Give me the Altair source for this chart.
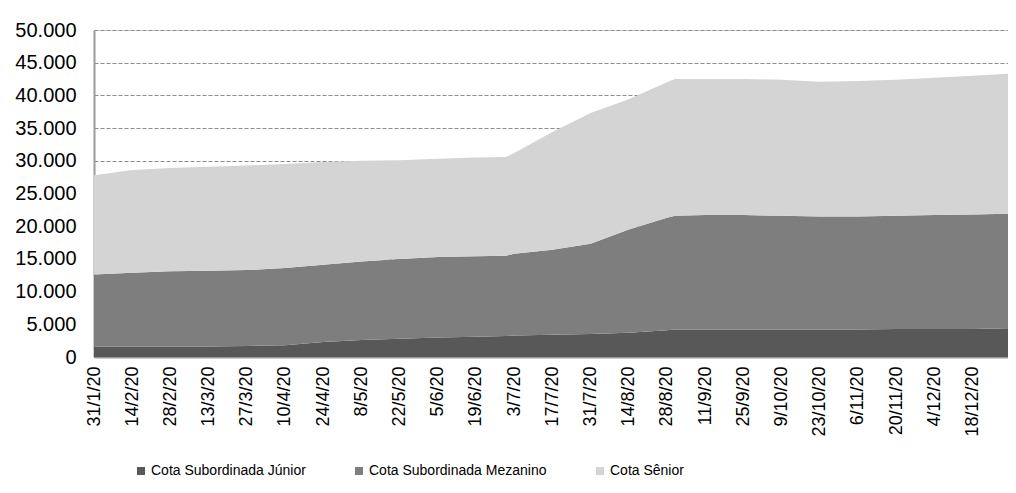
import altair as alt
import pandas as pd

# ---- data (R$ mil) ----
dates = ["2020-01-31", "2020-02-14", "2020-02-28", "2020-03-13", "2020-03-27",
         "2020-04-10", "2020-04-24", "2020-05-08", "2020-05-22", "2020-06-05",
         "2020-06-19", "2020-06-30", "2020-07-03", "2020-07-17", "2020-07-31",
         "2020-08-14", "2020-08-28", "2020-08-31", "2020-09-11", "2020-09-25",
         "2020-10-09", "2020-10-23", "2020-11-06", "2020-11-20", "2020-12-04",
         "2020-12-18", "2020-12-31"]

junior = [1600, 1600, 1600, 1600, 1700, 1800, 2300, 2600, 2800, 3000, 3100, 3200,
          3300, 3400, 3500, 3700, 4100, 4200, 4200, 4200, 4200, 4200, 4200, 4300,
          4300, 4300, 4400]
mezanino = [11000, 11300, 11500, 11600, 11600, 11800, 11800, 12000, 12200, 12300,
            12300, 12300, 12500, 13000, 13800, 15800, 17200, 17400, 17500, 17500,
            17400, 17300, 17300, 17300, 17400, 17500, 17500]
senior = [15200, 15700, 15800, 15900, 16000, 15900, 15700, 15400, 15100, 15000,
          15100, 15100, 15400, 18000, 20000, 19900, 20700, 20900, 20800, 20800,
          20800, 20600, 20700, 20800, 21000, 21200, 21400]

series_names = ["Cota Subordinada Júnior", "Cota Subordinada Mezanino", "Cota Sênior"]
series_colors = ["#585858", "#7e7e7e", "#d4d4d4"]

tick_dates = [(1, 31), (2, 14), (2, 28), (3, 13), (3, 27), (4, 10), (4, 24), (5, 8),
              (5, 22), (6, 5), (6, 19), (7, 3), (7, 17), (7, 31), (8, 14), (8, 28),
              (9, 11), (9, 25), (10, 9), (10, 23), (11, 6), (11, 20), (12, 4), (12, 18)]

rows = []
for k, (name, vals) in enumerate(zip(series_names, [junior, mezanino, senior])):
    for d, v in zip(dates, vals):
        rows.append({"data": d, "serie": name, "valor": v, "ordem": k})
df = pd.DataFrame(rows)

FONT = "Liberation Sans"

chart = alt.Chart(df).mark_area(opacity=1).encode(
    x=alt.X(
        "data:T",
        scale=alt.Scale(
            type="utc",
            domain=[alt.DateTime(year=2020, month=1, date=31, utc=True),
                    alt.DateTime(year=2020, month=12, date=31, utc=True)],
            nice=False,
        ),
        axis=alt.Axis(
            title=None,
            values=[alt.DateTime(year=2020, month=m, date=d, utc=True) for m, d in tick_dates],
            format="%-d/%-m/%y",
            labelAngle=-90,
            labelAlign="right",
            labelBaseline="middle",
            labelPadding=9,
            labelFontSize=18,
            labelFont=FONT,
            labelColor="#000000",
            labelOverlap=False,
            labelFlush=False,
            ticks=False,
            grid=False,
            domainColor="#9a9a9a",
            domainWidth=2,
        ),
    ),
    y=alt.Y(
        "valor:Q",
        stack="zero",
        scale=alt.Scale(domain=[0, 50000], nice=False),
        axis=alt.Axis(
            title=None,
            values=list(range(0, 50001, 5000)),
            labelExpr="replace(format(datum.value, ',d'), ',', '.')",
            labelFontSize=20,
            labelFont=FONT,
            labelColor="#000000",
            labelPadding=18,
            ticks=False,
            grid=True,
            gridColor="#8c8c8c",
            gridDash=[4, 2],
            gridWidth=1,
            domainColor="#9a9a9a",
            domainWidth=2,
            minExtent=86,
            maxExtent=86,
        ),
    ),
    color=alt.Color(
        "serie:N",
        scale=alt.Scale(domain=series_names, range=series_colors),
        legend=alt.Legend(
            title=None,
            orient="none",
            direction="horizontal",
            legendX=40,
            legendY=434,
            symbolType="square",
            symbolSize=64,
            symbolStrokeWidth=0,
            labelFont=FONT,
            labelFontSize=14,
            labelColor="#000000",
            labelOffset=3,
            labelLimit=400,
            columnPadding=46,
        ),
    ),
    order=alt.Order("ordem:Q"),
).properties(
    width=914,
    height=327,
    padding={"left": 0, "top": 12, "right": 0, "bottom": 0},
).configure_view(stroke=None).configure(background="white")

chart.save("out.html", embed_options={"renderer": "svg", "actions": False})
